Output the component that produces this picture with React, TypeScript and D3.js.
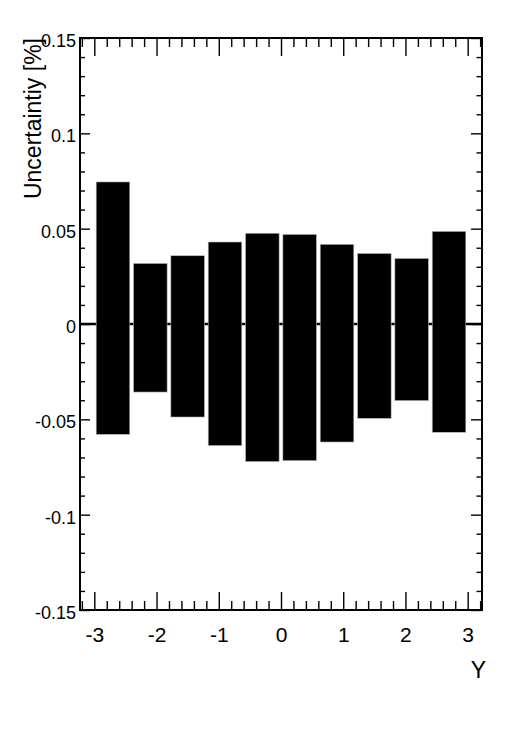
import { useEffect, useRef } from 'react'
import * as d3 from 'd3'

const W = 509
const H = 733
const FRAME = { left: 80, right: 482, top: 38, bottom: 610 }
const FONT = '"Liberation Sans", Arial, Helvetica, sans-serif'

// bin edges (Y), 10 bins of 0.6 from -3 to 3
const binLow = [-3, -2.4, -1.8, -1.2, -0.6, 0, 0.6, 1.2, 1.8, 2.4]
const binWidth = 0.6
// up / down uncertainty per bin
const upper = [0.0745, 0.0318, 0.0358, 0.043, 0.0476, 0.047, 0.0418, 0.037, 0.0344, 0.0486]
const lower = [-0.0579, -0.0357, -0.0488, -0.0638, -0.0722, -0.0717, -0.0619, -0.0495, -0.0402, -0.0568]

const xMajor = [-3, -2, -1, 0, 1, 2, 3]
const yMajor = [-0.15, -0.1, -0.05, 0, 0.05, 0.1, 0.15]

const fmt = (d: number) => String(+d.toFixed(2))

export default function App() {
  const svgRef = useRef<SVGSVGElement>(null)

  useEffect(() => {
    if (!svgRef.current) return
    const svg = d3.select(svgRef.current)
    svg.selectAll('*').remove()

    const x = d3.scaleLinear().domain([-3.23, 3.23]).range([FRAME.left, FRAME.right])
    const y = d3.scaleLinear().domain([-0.15, 0.15]).range([FRAME.bottom, FRAME.top])

    const xMinor = d3.range(-16, 17).map((i) => i * 0.2).filter((v) => !xMajor.some((m) => Math.abs(m - v) < 1e-6))
    const yMinor = d3.range(-15, 16).map((i) => i * 0.01).filter((v) => !yMajor.some((m) => Math.abs(m - v) < 1e-6))

    const bins = binLow.map((lo, i) => ({ lo, up: upper[i], dn: lower[i] }))

    // zero line
    svg.append('line')
      .attr('x1', FRAME.left).attr('x2', FRAME.right)
      .attr('y1', y(0)).attr('y2', y(0))
      .attr('stroke', '#000').attr('stroke-width', 2.5)

    // bars
    const inset = binWidth * 0.05
    svg.append('g').selectAll('rect')
      .data(bins)
      .join('rect')
      .attr('x', (d) => x(d.lo + inset))
      .attr('width', (d) => x(d.lo + binWidth - inset) - x(d.lo + inset))
      .attr('y', (d) => y(d.up))
      .attr('height', (d) => y(d.dn) - y(d.up))
      .attr('fill', '#000')
      .attr('stroke', '#bbb')
      .attr('stroke-width', 0.6)

    const styleAxis = (g: any, size: number) => {
      g.select('.domain').remove()
      g.selectAll('.tick line').attr('stroke', '#000').attr('stroke-width', 1.4)
      g.selectAll('.tick text')
        .attr('fill', '#000')
        .attr('font-family', FONT)
        .attr('font-size', size)
    }

    // bottom
    svg.append('g').attr('transform', `translate(0,${FRAME.bottom})`)
      .call(d3.axisBottom(x).tickValues(xMajor).tickSize(-18).tickPadding(17).tickFormat((d: any) => fmt(d)))
      .call((g) => styleAxis(g, 21))
    svg.append('g').attr('transform', `translate(0,${FRAME.bottom})`)
      .call(d3.axisBottom(x).tickValues(xMinor).tickSize(-9).tickFormat(() => ''))
      .call((g) => styleAxis(g, 21))
    // top
    svg.append('g').attr('transform', `translate(0,${FRAME.top})`)
      .call(d3.axisTop(x).tickValues(xMajor).tickSize(-18).tickFormat(() => ''))
      .call((g) => styleAxis(g, 21))
    svg.append('g').attr('transform', `translate(0,${FRAME.top})`)
      .call(d3.axisTop(x).tickValues(xMinor).tickSize(-9).tickFormat(() => ''))
      .call((g) => styleAxis(g, 21))
    // left
    svg.append('g').attr('transform', `translate(${FRAME.left},0)`)
      .call(d3.axisLeft(y).tickValues(yMajor).tickSize(-10).tickPadding(4).tickFormat((d: any) => fmt(d)))
      .call((g) => styleAxis(g, 18))
      .call((g) => g.selectAll('.tick text').attr('dy', '0.48em'))
    svg.append('g').attr('transform', `translate(${FRAME.left},0)`)
      .call(d3.axisLeft(y).tickValues(yMinor).tickSize(-5).tickFormat(() => ''))
      .call((g) => styleAxis(g, 18))
    // right
    svg.append('g').attr('transform', `translate(${FRAME.right},0)`)
      .call(d3.axisRight(y).tickValues(yMajor).tickSize(-11).tickFormat(() => ''))
      .call((g) => styleAxis(g, 18))
    svg.append('g').attr('transform', `translate(${FRAME.right},0)`)
      .call(d3.axisRight(y).tickValues(yMinor).tickSize(-5.5).tickFormat(() => ''))
      .call((g) => styleAxis(g, 18))

    // frame
    svg.append('rect')
      .attr('x', FRAME.left).attr('y', FRAME.top)
      .attr('width', FRAME.right - FRAME.left).attr('height', FRAME.bottom - FRAME.top)
      .attr('fill', 'none').attr('stroke', '#000').attr('stroke-width', 2)

    // axis titles
    svg.append('text')
      .attr('transform', `translate(41,${FRAME.top}) rotate(-90)`)
      .attr('text-anchor', 'end')
      .attr('font-family', FONT)
      .attr('font-size', 23)
      .attr('fill', '#000')
      .text('Uncertaintiy [%]')

    svg.append('text')
      .attr('x', 486)
      .attr('y', 678)
      .attr('text-anchor', 'end')
      .attr('font-family', FONT)
      .attr('font-size', 23)
      .attr('fill', '#000')
      .text('Y')
  }, [])

  return (
    <svg
      ref={svgRef}
      width={W}
      height={H}
      style={{ position: 'absolute', left: 0, top: 0, background: '#fff' }}
    />
  )
}
